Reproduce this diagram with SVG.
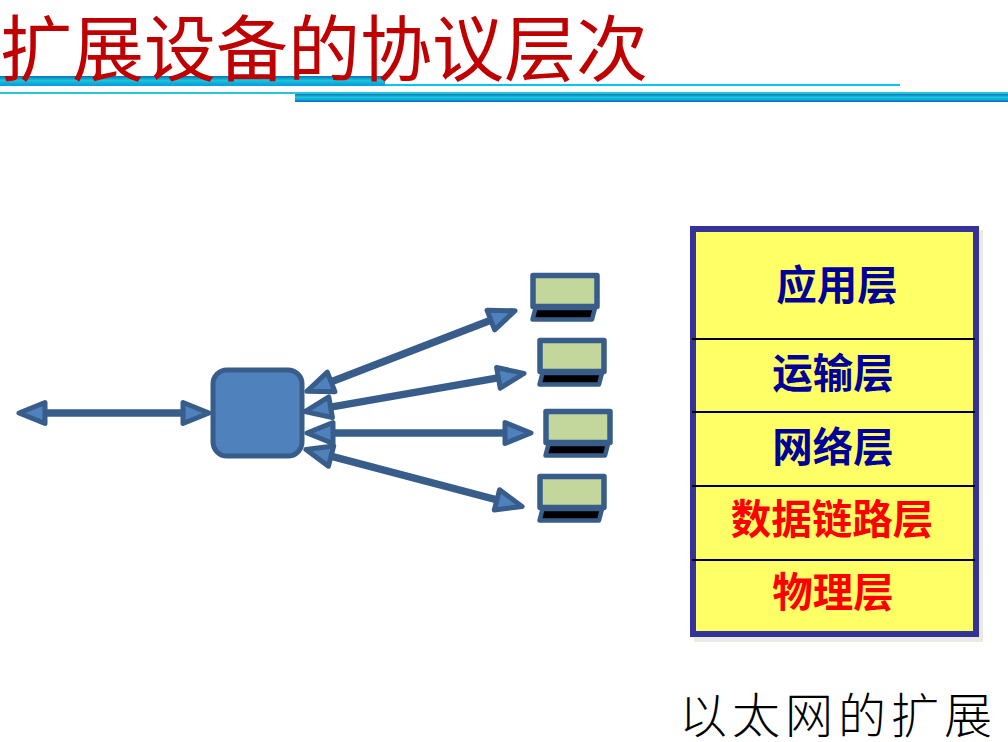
<svg xmlns="http://www.w3.org/2000/svg" width="1008" height="742" viewBox="0 0 1008 742">
<defs>
<linearGradient id="bar" x1="0" y1="0" x2="0" y2="1"><stop offset="0" stop-color="#0a6fc0"/><stop offset="0.45" stop-color="#18c8d0"/><stop offset="0.75" stop-color="#10a8e0"/><stop offset="1" stop-color="#00a0e8"/></linearGradient>
<linearGradient id="bar2" x1="0" y1="0" x2="0" y2="1"><stop offset="0" stop-color="#1a70c0"/><stop offset="0.4" stop-color="#18c8d8"/><stop offset="0.75" stop-color="#10a0e0"/><stop offset="1" stop-color="#0a60b0"/></linearGradient>
<marker id="ah" viewBox="0 0 34 30" refX="16" refY="15" markerWidth="34" markerHeight="30" markerUnits="userSpaceOnUse" orient="auto-start-reverse"><path d="M3 4.5L29 15L3 25.5Z" fill="#4f81bd" stroke="#385d8a" stroke-width="5" stroke-linejoin="round"/></marker>
<g id="pc"><rect x="3" y="2.5" width="64" height="31" fill="#c3d69b" stroke="#385d8a" stroke-width="5.5" stroke-linejoin="round"/><path d="M5.5 35H65L62 46.5H2.5Z" fill="#000" stroke="#385d8a" stroke-width="4.5" stroke-linejoin="round"/></g>
</defs>
<style>
.t{font-family:"Liberation Sans","Noto Sans CJK SC",sans-serif}
.c{stroke:#385d8a;stroke-width:7.5;fill:none;marker-start:url(#ah);marker-end:url(#ah)}
.l{font-size:40.5px;font-weight:700;text-anchor:middle}
.b{fill:#000099}.r{fill:#ff0000}
.d{stroke:#000;stroke-width:2}
</style>
<g id="title">
<rect x="0" y="76" width="385" height="10" fill="url(#bar)"/>
<rect x="385" y="84" width="515" height="2" fill="#00c8f0"/>
<rect x="0" y="92" width="1008" height="2" fill="#20c8d8"/>
<rect x="295" y="94" width="713" height="8" fill="url(#bar2)"/>
<text class="t" x="0" y="75" font-size="72" fill="#c00000">扩展设备的协议层次</text>
</g>
<g id="connectors">
<line class="c" x1="32" y1="413" x2="196" y2="413"/>
<line class="c" x1="319" y1="386.6" x2="503" y2="315.4"/>
<line class="c" x1="317.8" y1="409.4" x2="511.2" y2="375.6"/>
<line class="c" x1="320" y1="433" x2="518" y2="433"/>
<line class="c" x1="318.5" y1="452.8" x2="509.5" y2="503.2"/>
</g>
<g id="switch"><rect x="213" y="370" width="89" height="86" rx="14" fill="#4f81bd" stroke="#385d8a" stroke-width="5"/></g>
<use id="pc1" href="#pc" x="530" y="273"/>
<use id="pc2" href="#pc" x="537" y="338"/>
<use id="pc3" href="#pc" x="543" y="409"/>
<use id="pc4" href="#pc" x="537" y="474"/>
<g id="stack">
<rect x="694" y="230" width="289" height="412" fill="#eaeae2"/>
<rect x="693" y="229" width="283" height="405" fill="#ffff66" stroke="#333399" stroke-width="6"/>
<line class="d" x1="692" y1="339" x2="975" y2="339"/>
<line class="d" x1="692" y1="412" x2="975" y2="412"/>
<line class="d" x1="692" y1="486" x2="975" y2="486"/>
<line class="d" x1="692" y1="560" x2="975" y2="560"/>
<text class="t l b" x="837" y="300">应用层</text>
<text class="t l b" x="833" y="388">运输层</text>
<text class="t l b" x="833" y="462">网络层</text>
<text class="t l r" x="832" y="534">数据链路层</text>
<text class="t l r" x="833" y="607">物理层</text>
</g>
<g id="caption"><text class="t" x="679" y="733" font-size="48" letter-spacing="5" font-weight="300" fill="#000">以太网的扩展</text></g>
</svg>
